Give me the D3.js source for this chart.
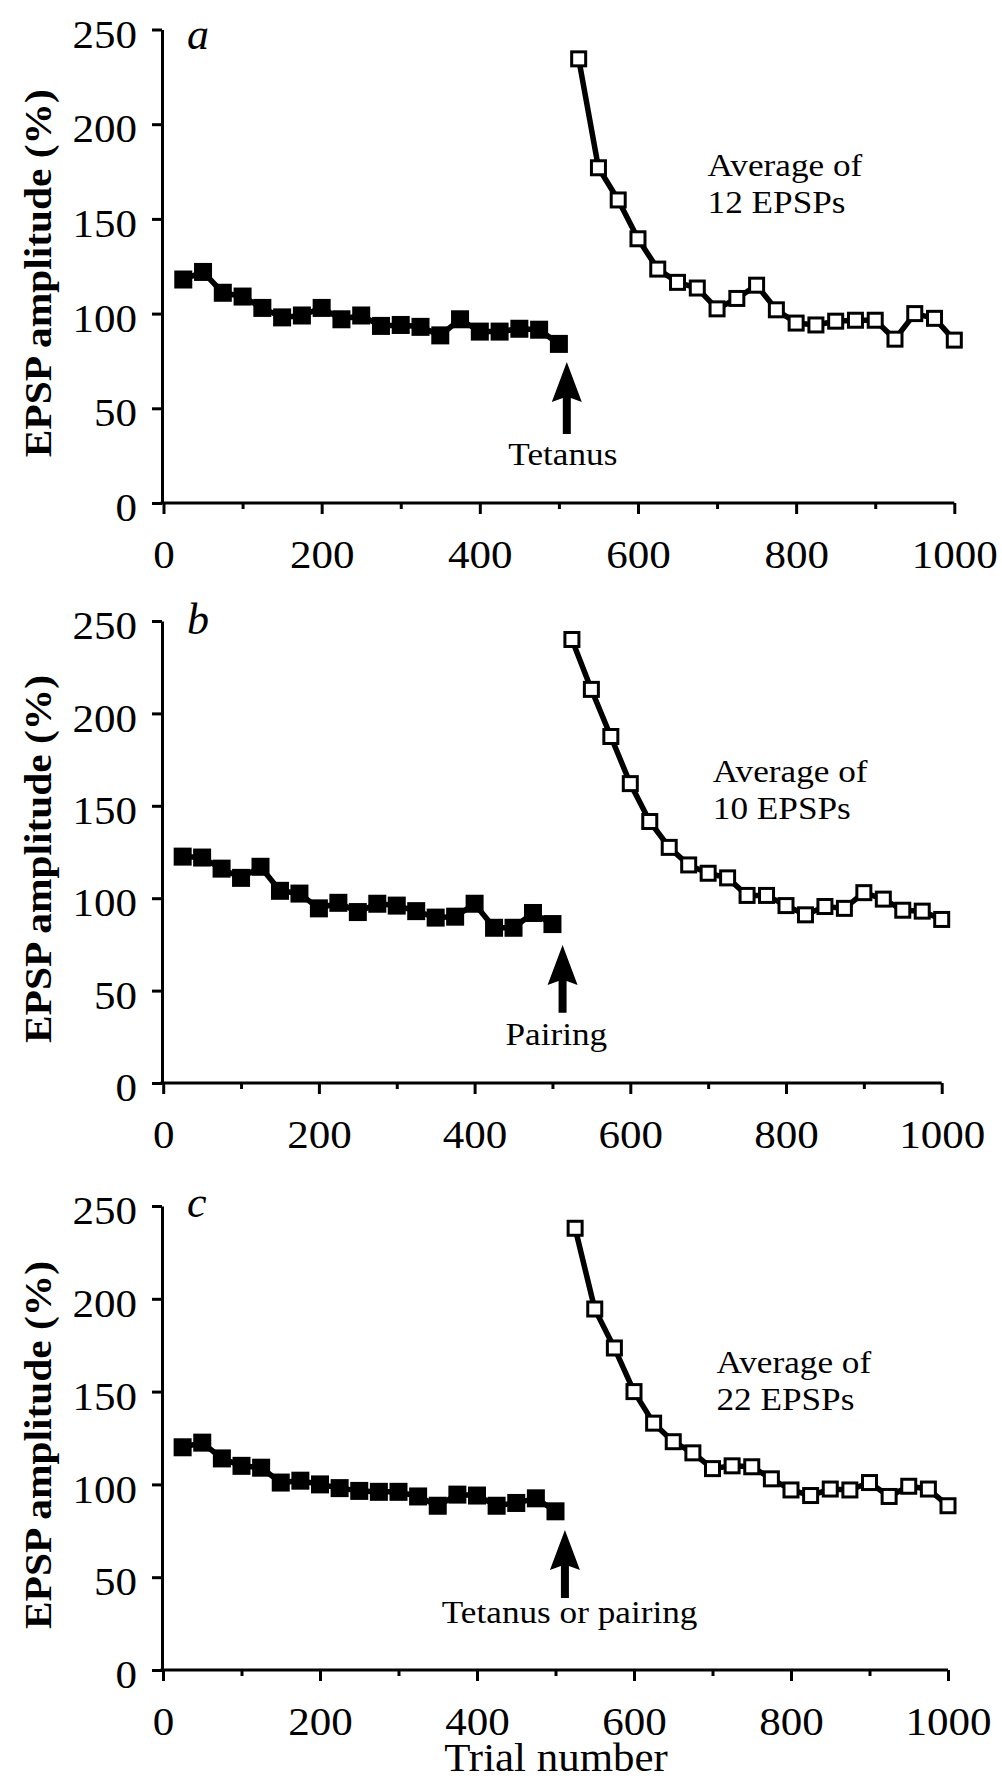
<!DOCTYPE html>
<html>
<head>
<meta charset="utf-8">
<script src="https://cdn.jsdelivr.net/npm/d3@7"></script>
<style>
  body { margin: 0; background: #fff; }
  svg { display: block; }
</style>
</head>
<body>
<svg id="chart"></svg>
<script>
// TRIAL NUMBERS (x values of the points)
let trialsBefore = [25, 50, 75, 100, 125, 150, 175, 200, 225, 250, 275, 300, 325, 350, 375, 400, 425, 450, 475, 500];
let trialsAfter = [525, 550, 575, 600, 625, 650, 675, 700, 725, 750, 775, 800, 825, 850, 875, 900, 925, 950, 975, 1000];

// EPSP AMPLITUDE (%) - PANEL a
let aBefore = [118, 122, 111, 109, 103, 98, 99, 103, 97, 99, 93.5, 94, 93, 88.5, 97, 90.5, 90.5, 92, 91.5, 84];
let aAfter = [234.5, 177, 160, 139.5, 123.5, 116.5, 113.5, 102.5, 108, 115, 102, 95, 94, 96, 96.5, 96.5, 86.5, 100, 97.5, 86];

// PANEL b
let bBefore = [122.5, 122, 116, 111, 117, 104, 102.5, 94.5, 97.5, 92.5, 97, 96, 93, 89.5, 90, 97, 84, 84, 92, 86];
let bAfter = [240, 213, 187.5, 162, 141.5, 127.5, 118, 113.5, 111, 101.5, 101.5, 96, 91, 95.5, 94.5, 103, 99.5, 93.5, 93, 88.5];

// PANEL c
let cBefore = [120, 122.5, 114, 110, 109, 101, 102, 100, 98, 96.5, 96, 96, 93.5, 88.5, 94.5, 94, 88.5, 90, 92.5, 85.5];
let cAfter = [238, 194.5, 173.5, 150, 133, 123, 117, 108.5, 110, 109.5, 103, 97, 94, 97.5, 97, 101, 93.5, 99, 97.5, 88.5];

// TICKS AND LABELS
let yTicks = [0, 50, 100, 150, 200, 250];
let xTicks = [0, 200, 400, 600, 800, 1000];
let xMinorTicks = [100, 300, 500, 700, 900];
let panelLetters = ["a", "b", "c"];
let stimulusLabels = ["Tetanus", "Pairing", "Tetanus or pairing"];
let averageLabels = ["12 EPSPs", "10 EPSPs", "22 EPSPs"];
let yTitle = "EPSP amplitude (%)";
let xTitle = "Trial number";

let serif = "'Liberation Serif', 'Times New Roman', Times, serif";

//LAYOUT OF THE THREE PANELS
let panels = [
  { before: aBefore, after: aAfter, left: 163.5, right: 954.3, bottom: 503, top: 29.5,
    letterDy: 19, avgAt: [688, 172.6], noteAt: [505, 20], arrow: [510, 74.4, 36.4] },
  { before: bBefore, after: bAfter, left: 163.2, right: 941.7, bottom: 1083, top: 621,
    letterDy: 13, avgAt: [706, 163], noteAt: [505, 20.6], arrow: [513, 74.7, 38] },
  { before: cBefore, after: cAfter, left: 163, right: 948, bottom: 1670, top: 1206,
    letterDy: 11, avgAt: [705, 159.9], noteAt: [518, 25.2], arrow: [512, 75.4, 38.8] }
];

let svg = d3.select("#chart").attr("width", 1002).attr("height", 1780);
svg.append("rect").attr("width", 1002).attr("height", 1780).attr("fill", "#fff");

//MEASURE A SAMPLE STRING SO TEXT CAN BE SQUEEZED TO THE PRINTED WIDTH
function measure(str, size, weight) {
  let t = svg.append("text")
    .style("font-family", serif)
    .style("font-size", size + "px")
    .style("font-weight", weight || "normal")
    .text(str);
  let w = t.node().getComputedTextLength();
  t.remove();
  return w;
}
function squeeze(sel, k) {
  sel.each(function() {
    let w = this.getComputedTextLength();
    d3.select(this).attr("textLength", w * k).attr("lengthAdjust", "spacingAndGlyphs");
  });
}

let tickSize = 40, noteSize = 32;
let kTick = Math.min(1.1, 86 / measure("1000", tickSize));
let kNote = Math.min(1.1, 157 / measure("Average of", noteSize));
let kTrial = Math.min(1.1, 226 / measure(xTitle, 39));

function drawPanel(p, i) {
  let axisX = 162;
  let x = d3.scaleLinear().domain([0, 1000]).range([p.left, p.right]);
  let y = d3.scaleLinear().domain([0, 250]).range([p.bottom, p.top]);
  let g = svg.append("g");

  //Y AXIS
  let yAxis = d3.axisLeft(y).tickValues(yTicks).tickSize(10).tickSizeOuter(0).tickPadding(15);
  let ya = g.append("g").attr("transform", "translate(" + axisX + ",0)").call(yAxis);
  ya.select(".domain").attr("stroke", "#000").attr("stroke-width", 3);
  ya.selectAll(".tick line").attr("stroke", "#000").attr("stroke-width", 3);
  ya.selectAll(".tick text")
    .attr("dy", "0.44em")
    .style("font-family", serif)
    .style("font-size", tickSize + "px")
    .attr("fill", "#000")
    .call(squeeze, kTick);

  //X AXIS (MINOR TICKS FIRST, THEN LABELLED ONES)
  let xMinor = d3.axisBottom(x).tickValues(xMinorTicks).tickSize(6).tickSizeOuter(0);
  let xm = g.append("g").attr("transform", "translate(0," + y(0) + ")").call(xMinor);
  xm.select(".domain").remove();
  xm.selectAll(".tick text").remove();
  xm.selectAll(".tick line").attr("stroke", "#000").attr("stroke-width", 3);

  let xAxis = d3.axisBottom(x).tickValues(xTicks).tickSize(11).tickSizeOuter(0)
    .tickPadding(26).tickFormat(d3.format("d"));
  let xa = g.append("g").attr("transform", "translate(0," + y(0) + ")").call(xAxis);
  xa.select(".domain").attr("d", "M" + (axisX - 1.5) + ",0H" + x(1000)).attr("stroke", "#000").attr("stroke-width", 3);
  xa.selectAll(".tick line").attr("stroke", "#000").attr("stroke-width", 3);
  xa.selectAll(".tick text")
    .style("font-family", serif)
    .style("font-size", tickSize + "px")
    .attr("fill", "#000")
    .call(squeeze, kTick);

  //AXIS TITLE
  g.append("text")
    .attr("transform", "rotate(-90)")
    .attr("x", -((p.bottom + p.top) / 2 + 7))
    .attr("y", 51)
    .attr("text-anchor", "middle")
    .attr("textLength", 368)
    .attr("lengthAdjust", "spacingAndGlyphs")
    .style("font-family", serif)
    .style("font-weight", "bold")
    .style("font-size", "38px")
    .text(yTitle);

  //PANEL LETTER
  g.append("text")
    .attr("x", 187)
    .attr("y", y(250) + p.letterDy)
    .style("font-family", serif)
    .style("font-style", "italic")
    .style("font-size", "44px")
    .text(panelLetters[i]);

  let line = d3.line().x(d => x(d[0])).y(d => y(d[1]));
  let before = d3.zip(trialsBefore, p.before);
  let after = d3.zip(trialsAfter, p.after);

  //DRAW LINES
  g.append("path").datum(before)
    .attr("fill", "none").attr("stroke", "#000").attr("stroke-width", 5.5)
    .attr("stroke-linejoin", "round").attr("d", line);
  g.append("path").datum(after)
    .attr("fill", "none").attr("stroke", "#000").attr("stroke-width", 5.5)
    .attr("stroke-linejoin", "round").attr("d", line);

  //FILLED SQUARES BEFORE STIMULUS
  let s1 = 18;
  g.selectAll(".filled").data(before).enter().append("rect")
    .attr("class", "filled")
    .attr("x", d => x(d[0]) - s1 / 2)
    .attr("y", d => y(d[1]) - s1 / 2)
    .attr("width", s1).attr("height", s1)
    .attr("fill", "#000");

  //OPEN SQUARES AFTER STIMULUS
  let s2 = 14;
  g.selectAll(".open").data(after).enter().append("rect")
    .attr("class", "open")
    .attr("x", d => x(d[0]) - s2 / 2)
    .attr("y", d => y(d[1]) - s2 / 2)
    .attr("width", s2).attr("height", s2)
    .attr("fill", "#fff").attr("stroke", "#000").attr("stroke-width", 3);

  //ARROW
  let ax = x(p.arrow[0]), tip = y(p.arrow[1]), base = y(p.arrow[2]);
  let hw = 15, hh = 40, sw = 4;
  g.append("path")
    .attr("d", "M" + ax + "," + tip +
      "L" + (ax + hw) + "," + (tip + hh) +
      "L" + (ax + sw) + "," + (tip + hh - 4) +
      "L" + (ax + sw) + "," + base +
      "L" + (ax - sw) + "," + base +
      "L" + (ax - sw) + "," + (tip + hh - 4) +
      "L" + (ax - hw) + "," + (tip + hh) + "Z")
    .attr("fill", "#000");

  g.append("text")
    .attr("x", x(p.noteAt[0]))
    .attr("y", y(p.noteAt[1]))
    .attr("text-anchor", "middle")
    .style("font-family", serif)
    .style("font-size", noteSize + "px")
    .text(stimulusLabels[i])
    .call(squeeze, kNote);

  //AVERAGE NOTE
  let note = g.append("text")
    .attr("x", x(p.avgAt[0]))
    .attr("y", y(p.avgAt[1]))
    .style("font-family", serif)
    .style("font-size", noteSize + "px");
  note.append("tspan").text("Average of");
  note.append("tspan").attr("x", x(p.avgAt[0])).attr("dy", 37).text(averageLabels[i]);
  note.selectAll("tspan").call(squeeze, kNote);
}

panels.forEach(drawPanel);

//X AXIS TITLE (BOTTOM PANEL ONLY)
svg.append("text")
  .attr("x", 556)
  .attr("y", 1771)
  .attr("text-anchor", "middle")
  .style("font-family", serif)
  .style("font-size", "39px")
  .text(xTitle)
  .call(squeeze, kTrial);
</script>
</body>
</html>
